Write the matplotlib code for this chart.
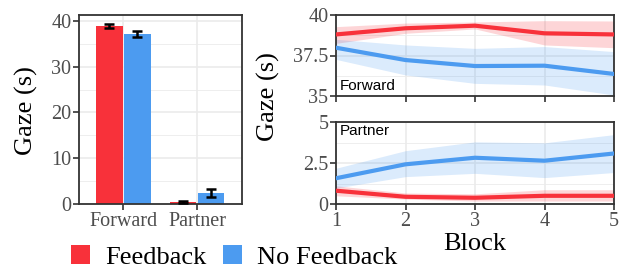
import numpy as np
import matplotlib
matplotlib.use('Agg')
import matplotlib.pyplot as plt
from matplotlib.patches import Patch

RED = '#f8313a'
BLUE = '#4c9bf0'
SERIF = ['Liberation Serif', 'DejaVu Serif']
SANS = ['Liberation Sans', 'DejaVu Sans']

# bar chart data
areas = ['Forward', 'Partner']
fb_mean = [38.9, 0.4]
fb_err = [0.4, 0.2]
nofb_mean = [37.1, 2.4]
nofb_err = [0.7, 0.9]

# per-block data
blocks = [1, 2, 3, 4, 5]
fwd_fb = [38.8, 39.18, 39.34, 38.87, 38.8]
fwd_fb_lo = [38.25, 38.87, 39.14, 38.15, 37.98]
fwd_fb_hi = [39.28, 39.5, 39.57, 39.65, 39.63]
fwd_nofb = [37.98, 37.22, 36.85, 36.87, 36.36]
fwd_nofb_lo = [37.26, 36.3, 35.78, 35.68, 35.06]
fwd_nofb_hi = [38.5, 38.15, 37.94, 38.05, 37.74]
par_fb = [0.81, 0.44, 0.38, 0.5, 0.5]
par_fb_lo = [0.5, 0.3, 0.18, 0.18, 0.18]
par_fb_hi = [1.11, 0.67, 0.62, 0.87, 0.87]
par_nofb = [1.57, 2.42, 2.82, 2.64, 3.08]
par_nofb_lo = [0.97, 1.67, 1.87, 1.61, 1.92]
par_nofb_hi = [2.18, 3.25, 3.79, 3.73, 4.23]

W, H = 623, 270
fig = plt.figure(figsize=(W / 100, H / 100), dpi=100)

def px_axes(x0, y0, x1, y1):
    return fig.add_axes([x0 / W, 1 - y1 / H, (x1 - x0) / W, (y1 - y0) / H])

def style(ax):
    for s in ax.spines.values():
        s.set_color('#333333')
        s.set_linewidth(1.3)
    ax.set_facecolor('white')
    ax.grid(True, which='major', color='#ebebeb', linewidth=1.2, zorder=0)
    ax.grid(True, which='minor', axis='y', color='#ebebeb', linewidth=0.6, zorder=0)
    ax.set_axisbelow(True)
    ax.tick_params(which='major', length=4, width=1.2, color='#333333',
                   labelcolor='#4d4d4d', labelsize=14.5, pad=1.5)
    ax.tick_params(which='minor', length=0)
    for lab in ax.get_xticklabels() + ax.get_yticklabels():
        lab.set_family(SERIF)

# left: bars
ax = px_axes(79, 15, 242, 204)
x = np.arange(1, 3)
ax.bar(x - 0.19, fb_mean, width=0.36, color=RED, zorder=2)
ax.bar(x + 0.19, nofb_mean, width=0.36, color=BLUE, zorder=2)
ax.errorbar(x - 0.19, fb_mean, yerr=fb_err, fmt='none', ecolor='black',
            elinewidth=1.8, capsize=3.5, capthick=1.8, zorder=3)
ax.errorbar(x + 0.19, nofb_mean, yerr=nofb_err, fmt='none', ecolor='black',
            elinewidth=1.8, capsize=3.5, capthick=1.8, zorder=3)
ax.set_xlim(0.4, 2.61)
ax.set_ylim(0, 41.3)
ax.set_xticks(x)
ax.set_xticklabels(areas)
ax.set_yticks([0, 10, 20, 30, 40])
ax.set_yticks([5, 15, 25, 35], minor=True)
style(ax)
fig.text(26 / W, 1 - 111 / H, 'Gaze (s)', family=SERIF, fontsize=19,
         rotation=90, ha='center', va='center')

# right: lines per block
def line_panel(ax, fb, fb_lo, fb_hi, nofb, nofb_lo, nofb_hi):
    ax.fill_between(blocks, fb_lo, fb_hi, color=RED, alpha=0.2, linewidth=0, zorder=1)
    ax.fill_between(blocks, nofb_lo, nofb_hi, color=BLUE, alpha=0.2, linewidth=0, zorder=1)
    ax.plot(blocks, fb, color=RED, linewidth=3, zorder=3)
    ax.plot(blocks, nofb, color=BLUE, linewidth=3, zorder=3)
    ax.set_xlim(1, 5)
    ax.set_xticks(blocks)

ax1 = px_axes(336, 15, 614, 96)
line_panel(ax1, fwd_fb, fwd_fb_lo, fwd_fb_hi, fwd_nofb, fwd_nofb_lo, fwd_nofb_hi)
ax1.set_ylim(35, 40)
ax1.set_yticks([35, 37.5, 40])
ax1.set_yticklabels(['35', '37.5', '40'])
ax1.set_yticks([36.25, 38.75], minor=True)
style(ax1)
ax1.set_xticklabels([])
ax1.text(0.015, 0.04, 'Forward', transform=ax1.transAxes, family=SANS,
         fontsize=11, ha='left', va='bottom')

ax2 = px_axes(336, 122, 614, 204)
line_panel(ax2, par_fb, par_fb_lo, par_fb_hi, par_nofb, par_nofb_lo, par_nofb_hi)
ax2.set_ylim(0, 5)
ax2.set_yticks([0, 2.5, 5])
ax2.set_yticklabels(['0', '2.5', '5'])
ax2.set_yticks([1.25, 3.75], minor=True)
style(ax2)
ax2.text(0.015, 0.97, 'Partner', transform=ax2.transAxes, family=SANS,
         fontsize=11, ha='left', va='top')
fig.text(475 / W, 1 - 244 / H, 'Block', family=SERIF, fontsize=19,
         ha='center', va='center')

fig.text(268 / W, 1 - 97 / H, 'Gaze (s)', family=SERIF, fontsize=19,
         rotation=90, ha='center', va='center')

handles = [Patch(facecolor=RED, label='Feedback'), Patch(facecolor=BLUE, label='No Feedback')]
fig.legend(handles=handles, loc='center left', bbox_to_anchor=(71 / W, 1 - 257 / H),
           ncol=2, frameon=False, prop={'family': SERIF, 'size': 19},
           handlelength=0.72, handleheight=0.75, handletextpad=0.57, columnspacing=0.65,
           borderaxespad=0, borderpad=0)

fig.savefig('out.png', dpi=100)
